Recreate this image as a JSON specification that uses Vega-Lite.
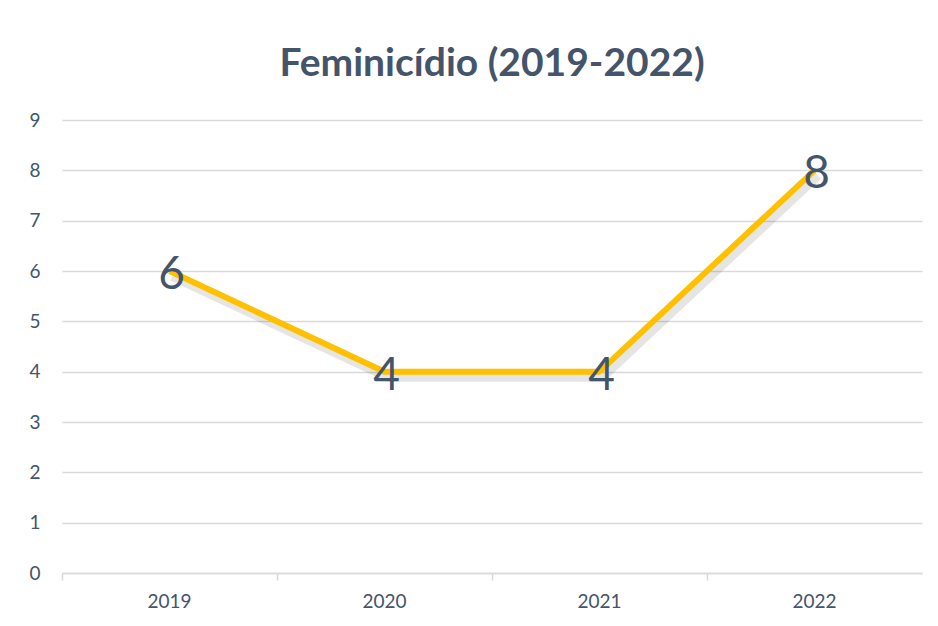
{
  "$schema": "https://vega.github.io/schema/vega-lite/v6.json",
  "autosize": "none",
  "width": 860,
  "height": 453,
  "padding": {"left": 62, "top": 120, "right": 16, "bottom": 53},
  "background": "white",
  "title": {
    "text": "Feminicídio (2019-2022)",
    "font": "Lato",
    "fontSize": 39,
    "fontWeight": "bold",
    "color": "#44546A",
    "anchor": "middle",
    "offset": 27
  },
  "data": {
    "values": [
      {"ano": "2019", "valor": 6},
      {"ano": "2020", "valor": 4},
      {"ano": "2021", "valor": 4},
      {"ano": "2022", "valor": 8}
    ]
  },
  "encoding": {
    "x": {
      "field": "ano",
      "type": "ordinal",
      "scale": {"type": "band", "paddingInner": 0, "paddingOuter": 0},
      "axis": {
        "title": null,
        "labelAngle": 0,
        "labelFont": "Lato",
        "labelFontSize": 19,
        "labelColor": "#44546A",
        "labelPadding": 12,
        "domainColor": "#D9D9D9",
        "domainWidth": 1.5,
        "tickColor": "#D9D9D9",
        "tickWidth": 1.5,
        "tickSize": 7,
        "bandPosition": 0,
        "grid": false
      }
    },
    "y": {
      "field": "valor",
      "type": "quantitative",
      "scale": {"domain": [0, 9], "nice": false},
      "axis": {
        "title": null,
        "values": [0, 1, 2, 3, 4, 5, 6, 7, 8, 9],
        "labelFont": "Lato",
        "labelFontSize": 19,
        "labelColor": "#44546A",
        "labelPadding": 22,
        "domain": false,
        "ticks": false,
        "gridColor": "#D9D9D9",
        "gridWidth": 1.5
      }
    }
  },
  "layer": [
    {
      "mark": {"type": "line", "color": "#000000", "opacity": 0.1, "strokeWidth": 10, "xOffset": 3, "yOffset": 5, "strokeJoin": "round"}
    },
    {
      "mark": {"type": "line", "color": "#FFC000", "strokeWidth": 6, "strokeJoin": "round"}
    },
    {
      "mark": {"type": "text", "font": "Lato", "fontSize": 46, "color": "#44546A", "align": "center", "baseline": "middle", "dx": 2, "dy": 4},
      "encoding": {"text": {"field": "valor", "type": "quantitative"}}
    }
  ],
  "config": {"view": {"stroke": null}}
}
